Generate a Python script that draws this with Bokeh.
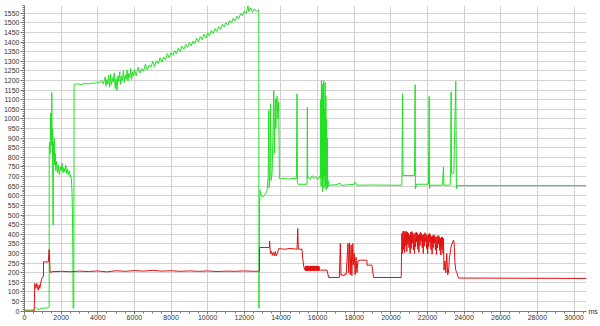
from bokeh.plotting import figure
from bokeh.models import Range1d, SingleIntervalTicker, FixedTicker, LinearAxis, NumeralTickFormatter
from bokeh.embed import file_html
from bokeh.resources import INLINE

# ---- data: (time in ms, value) ----
green_points = [
    (0, 5), (500, 5), (530, 12), (600, 19), (700, 12), (800, 9), (950, 14), (1073, 17), (1200, 15), (1308, 19),
    (1346, 20), (1350, 850), (1380, 880), (1400, 820), (1420, 1030), (1440, 900), (1460, 980), (1480, 860),
    (1490, 1138), (1500, 900), (1520, 950), (1540, 700), (1563, 447), (1580, 880), (1600, 800), (1620, 900),
    (1650, 760), (1680, 820), (1710, 730), (1750, 780), (1800, 720), (1850, 760), (1900, 710), (1950, 750),
    (2000, 730), (2050, 770), (2100, 720), (2150, 745), (2200, 725), (2250, 760), (2300, 715), (2350, 740),
    (2400, 710), (2450, 730), (2500, 700), (2525, 706), (2560, 690), (2600, 600), (2616, 509), (2640, 300),
    (2652, 15), (2690, 15), (2707, 1180), (2725, 1180), (2900, 1182), (3100, 1179), (3300, 1184), (3500, 1182),
    (3700, 1187), (3900, 1186), (4000, 1192), (4100, 1188), (4200, 1200), (4300, 1182), (4400, 1218),
    (4450, 1172), (4500, 1205), (4550, 1180), (4600, 1228), (4650, 1165), (4700, 1232), (4750, 1178),
    (4800, 1215), (4850, 1190), (4900, 1240), (4950, 1158), (5000, 1210), (5050, 1148), (5100, 1225),
    (5150, 1195), (5200, 1245), (5250, 1180), (5300, 1222), (5350, 1200), (5400, 1250), (5450, 1190),
    (5500, 1228), (5550, 1205), (5600, 1255), (5650, 1198), (5700, 1238), (5750, 1215), (5800, 1262),
    (5850, 1205), (5900, 1245), (5950, 1225), (6000, 1258), (6100, 1225), (6200, 1268), (6300, 1238),
    (6400, 1262), (6500, 1248), (6600, 1285), (6700, 1255), (6800, 1280), (6900, 1270), (7000, 1298),
    (7100, 1272), (7200, 1302), (7300, 1288), (7400, 1318), (7500, 1295), (7600, 1322), (7700, 1308),
    (7800, 1340), (7900, 1318), (8000, 1345), (8100, 1330), (8200, 1355), (8300, 1338), (8400, 1368),
    (8500, 1350), (8600, 1378), (8700, 1362), (8800, 1388), (8900, 1372), (9000, 1398), (9100, 1380),
    (9200, 1405), (9300, 1392), (9400, 1420), (9500, 1400), (9600, 1428), (9700, 1412), (9800, 1440),
    (9900, 1420), (10000, 1448), (10100, 1432), (10200, 1460), (10300, 1445), (10400, 1470), (10500, 1455),
    (10600, 1480), (10700, 1465), (10800, 1492), (10900, 1478), (11000, 1500), (11100, 1488), (11200, 1512),
    (11300, 1498), (11400, 1525), (11500, 1510), (11600, 1535), (11700, 1522), (11800, 1548), (11900, 1535),
    (12000, 1562), (12100, 1548), (12200, 1588), (12250, 1558), (12350, 1578), (12450, 1555), (12550, 1572),
    (12650, 1558), (12760, 1568), (12790, 1555), (12800, 15), (12830, 550), (12860, 628), (12900, 610),
    (12971, 594), (13050, 598), (13153, 610), (13244, 628), (13300, 700), (13335, 1044), (13360, 640),
    (13400, 720), (13426, 1079), (13460, 680), (13517, 717), (13560, 900), (13608, 1148), (13640, 820),
    (13670, 1000), (13698, 1100), (13720, 950), (13750, 1080), (13789, 1117), (13830, 1000), (13879, 1090),
    (13915, 689), (14000, 688), (14200, 690), (14400, 686), (14600, 690), (14842, 689), (14879, 1131),
    (14900, 670), (14933, 660), (15200, 660), (15424, 660), (15442, 1061), (15460, 690), (15478, 700),
    (15600, 685), (15700, 705), (15800, 690), (15900, 700), (16000, 685), (16100, 700), (16150, 690),
    (16170, 1100), (16190, 650), (16210, 1200), (16230, 700), (16250, 1180), (16270, 620), (16290, 1150),
    (16310, 680), (16330, 1200), (16350, 640), (16370, 1050), (16390, 700), (16410, 1190), (16430, 650),
    (16450, 1120), (16470, 630), (16490, 1000), (16510, 660), (16530, 900), (16550, 640), (16568, 680),
    (16605, 654), (17000, 658), (17241, 665), (17300, 654), (18000, 660), (18059, 672), (18150, 655),
    (19000, 656), (20000, 655), (20601, 655), (20637, 1131), (20660, 706), (21000, 706), (21289, 706),
    (21326, 1178), (21340, 637), (21400, 660), (22053, 660), (22090, 1117), (22110, 637), (22150, 655),
    (22819, 655), (22872, 750), (22900, 655), (23235, 655), (23260, 720), (23290, 1140), (23310, 717),
    (23435, 717), (23544, 1196), (23580, 637), (23620, 653), (30680, 653),
]

red_points = [
    (0, 0), (474, 0), (528, 0), (561, 144), (616, 118), (670, 144), (747, 109), (801, 137), (834, 118),
    (927, 165), (981, 178), (1035, 180), (1040, 256), (1300, 256), (1346, 320), (1400, 201), (1500, 205),
    (2000, 207), (2500, 205), (3000, 208), (3500, 206), (4000, 209), (4500, 204), (5000, 210), (5500, 207),
    (6000, 211), (6500, 208), (7000, 212), (7500, 208), (8000, 210), (8500, 207), (9000, 209), (9500, 207),
    (10000, 209), (10500, 206), (11000, 208), (11500, 207), (12000, 209), (12500, 207), (12826, 208),
    (12830, 331), (13371, 331), (13380, 365), (13400, 331), (13426, 300), (13480, 310), (13530, 290),
    (13580, 305), (13640, 288), (13690, 310), (13734, 287), (13800, 300), (13879, 325), (14200, 322),
    (14500, 326), (14879, 322), (14915, 430), (14950, 322), (15151, 322), (15188, 274), (15250, 230),
    (15297, 215), (15330, 232), (15355, 210), (15380, 236), (15405, 208), (15430, 234), (15455, 210),
    (15480, 236), (15505, 209), (15530, 235), (15555, 211), (15580, 233), (15605, 208), (15630, 236),
    (15655, 210), (15680, 234), (15705, 209), (15730, 235), (15755, 211), (15780, 236), (15805, 208),
    (15830, 233), (15855, 210), (15880, 235), (15905, 209), (15930, 236), (15955, 211), (15980, 234),
    (16005, 209), (16030, 235), (16055, 210), (16080, 233), (16105, 212), (16150, 213), (16514, 213),
    (16605, 175), (17186, 175), (17241, 352), (17280, 185), (17350, 190), (17420, 182), (17500, 195),
    (17560, 190), (17658, 352), (17690, 200), (17740, 355), (17780, 190), (17830, 345), (17870, 185),
    (17920, 352), (17960, 240), (18000, 300), (18050, 190), (18100, 280), (18150, 200), (18203, 260),
    (18331, 265), (18694, 265), (18700, 239), (18966, 239), (19057, 175), (20565, 175), (20601, 404),
    (20630, 300), (20660, 415), (20690, 320), (20720, 417), (20750, 305), (20780, 410), (20810, 340),
    (20840, 416), (20870, 310), (20900, 412), (20930, 350), (20960, 405), (20990, 330), (21020, 395),
    (21050, 300), (21080, 410), (21110, 325), (21140, 414), (21170, 355), (21200, 408), (21230, 318),
    (21260, 398), (21290, 300), (21320, 405), (21350, 335), (21380, 412), (21410, 360), (21440, 406),
    (21470, 322), (21500, 396), (21530, 305), (21560, 402), (21590, 340), (21620, 410), (21650, 365),
    (21680, 404), (21710, 330), (21740, 394), (21770, 300), (21800, 400), (21830, 338), (21860, 408),
    (21890, 362), (21920, 402), (21950, 325), (21980, 392), (22010, 298), (22040, 398), (22070, 335),
    (22100, 405), (22130, 358), (22160, 398), (22190, 320), (22220, 388), (22250, 296), (22280, 392),
    (22310, 330), (22340, 398), (22370, 355), (22400, 392), (22430, 318), (22460, 384), (22490, 295),
    (22520, 388), (22550, 328), (22580, 394), (22610, 350), (22640, 388), (22670, 315), (22700, 380),
    (22730, 292), (22760, 384), (22790, 320), (22820, 386), (22850, 300), (22872, 377), (22900, 213),
    (22950, 260), (23000, 200), (23050, 300), (23100, 190), (23145, 200), (23200, 280), (23300, 340),
    (23417, 369), (23450, 360), (23500, 250), (23544, 213), (23600, 200), (23689, 172), (30680, 170),
]

green_t = [t for t, v in green_points]
green_v = [v for t, v in green_points]
red_t = [t for t, v in red_points]
red_v = [v for t, v in red_points]

x_start, x_end = 0, 30680
y_start, y_end = -2, 1590
x_major, y_major = 2000, 50
unit_label = "ms"

p = figure(width=600, height=326, output_backend="svg", toolbar_location=None,
           x_range=Range1d(x_start, x_end), y_range=Range1d(y_start, y_end),
           min_border_left=22, min_border_right=0, min_border_top=5, min_border_bottom=15)
p.outline_line_color = None
p.background_fill_color = "white"
p.border_fill_color = "white"

p.xaxis.ticker = SingleIntervalTicker(interval=x_major, num_minor_ticks=4)
p.yaxis.ticker = SingleIntervalTicker(interval=y_major, num_minor_ticks=5)
p.xgrid.ticker = SingleIntervalTicker(interval=x_major)
p.ygrid.ticker = SingleIntervalTicker(interval=y_major)
p.xaxis.formatter = NumeralTickFormatter(format="0")
p.yaxis.formatter = NumeralTickFormatter(format="0")
p.grid.grid_line_color = "#d2d2d2"
p.grid.grid_line_width = 1

for ax in (p.xaxis, p.yaxis):
    ax.axis_line_color = "#7a7a7a"
    ax.major_tick_line_color = "#7a7a7a"
    ax.minor_tick_line_color = "#7a7a7a"
    ax.major_tick_in = 0
    ax.major_tick_out = 4
    ax.minor_tick_in = 0
    ax.minor_tick_out = 2
    ax.major_label_text_font = "Liberation Sans"
    ax.major_label_text_font_size = "7px"
    ax.major_label_text_color = "#333333"
    ax.major_label_standoff = 1
p.xaxis.major_tick_out = 3
p.xaxis.major_label_standoff = 0

# unit label "ms" at the right end of the x axis
unit_axis = LinearAxis(ticker=FixedTicker(ticks=[0]), major_label_overrides={0: unit_label},
                       axis_line_color=None, major_tick_line_color=None, minor_tick_line_color=None,
                       major_tick_out=0, major_tick_in=0, minor_tick_out=0, minor_tick_in=0,
                       major_label_standoff=2, major_label_text_font="Liberation Sans",
                       major_label_text_font_size="7px", major_label_text_color="#333333")
p.add_layout(unit_axis, "right")

p.line(green_t, green_v, line_color="#22e022", line_width=1)
p.line(red_t, red_v, line_color="#e01010", line_width=1)

open("out.html", "w").write(file_html(p, INLINE))
